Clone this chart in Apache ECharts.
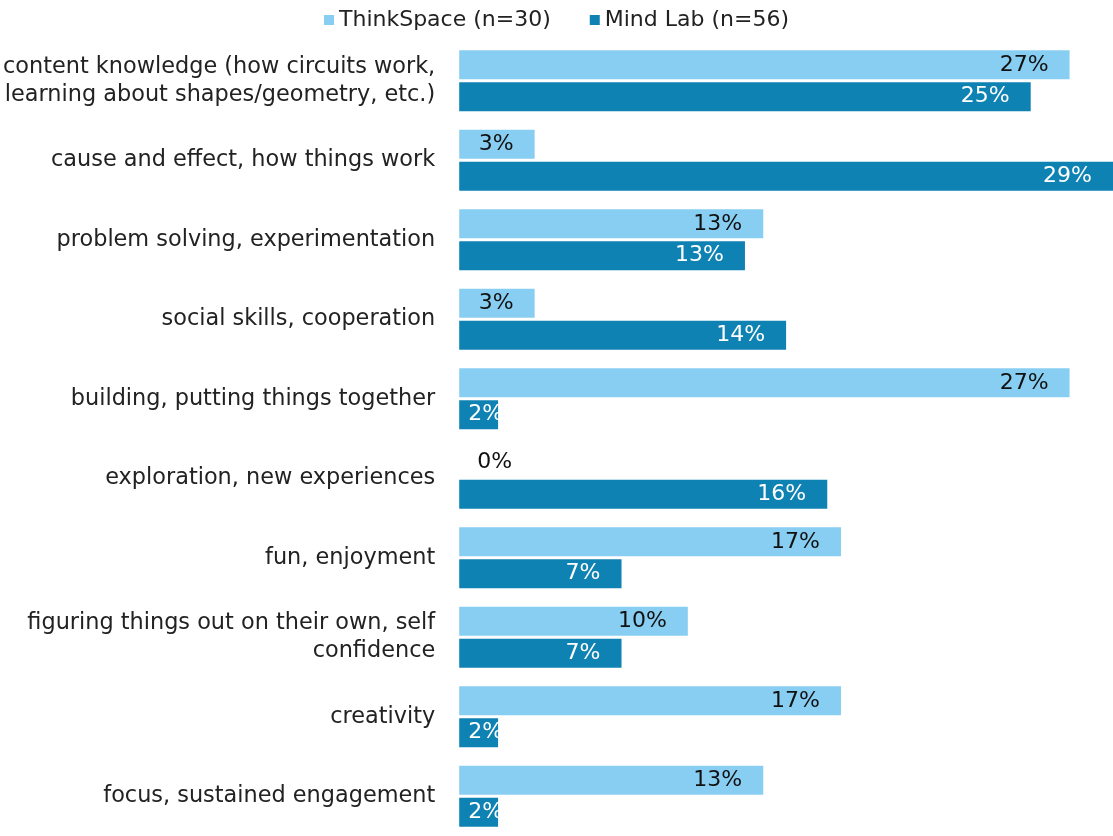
<!DOCTYPE html>
<html><head><meta charset="utf-8">
<script src="https://cdn.jsdelivr.net/npm/echarts@6/dist/echarts.min.js"></script>
<style>html,body{margin:0;padding:0;background:#fff}#c{width:1113px;height:836px}</style>
</head><body><div id="c"></div>
<script>
const categories = [
  "content knowledge (how circuits work,\nlearning about shapes/geometry, etc.)",
  "cause and effect, how things work",
  "problem solving, experimentation",
  "social skills, cooperation",
  "building, putting things together",
  "exploration, new experiences",
  "fun, enjoyment",
  "figuring things out on their own, self\nconfidence",
  "creativity",
  "focus, sustained engagement"
];
const seriesNames = ["ThinkSpace (n=30)", "Mind Lab (n=56)"];
const thinkSpace = [26.7, 3.3, 13.3, 3.3, 26.7, 0, 16.7, 10.0, 16.7, 13.3];
const mindLab    = [25.0, 28.6, 12.5, 14.3, 1.7, 16.1, 7.1, 7.1, 1.7, 1.7];

const FONT = 'DejaVu Sans';
const FS = 22;
const chart = echarts.init(document.getElementById('c'));

function pct(v){ return Math.round(v) + '%'; }

function mkData(vals){
  return vals.map(v => {
    const d = {value: v};
    if (v === 0) {
      d.label = {position: 'right', distance: 18};
    } else if (v < 3) {
      d.label = {position: 'insideLeft', distance: 9};
    }
    return d;
  });
}

chart.setOption({
  animation: false,
  textStyle: {fontFamily: FONT},
  legend: {
    top: 4, left: 'center',
    itemWidth: 10, itemHeight: 10, itemGap: 39,
    icon: 'rect',
    textStyle: {fontFamily: FONT, fontSize: FS, color: '#222'},
    data: seriesNames
  },
  grid: {left: 459, right: 0, top: 41, height: 800, containLabel: false},
  xAxis: {
    type: 'value', min: 0, max: 28.6,
    show: false
  },
  yAxis: {
    type: 'category', inverse: true, data: categories,
    axisLine: {show: false}, axisTick: {show: false},
    axisLabel: {fontFamily: FONT, fontSize: 22.4, color: '#222', margin: 24, lineHeight: 28, align: 'right'}
  },
  series: [
    {
      name: seriesNames[0], type: 'bar', data: mkData(thinkSpace),
      barWidth: 29, barGap: '10%', barCategoryGap: '23%',
      itemStyle: {color: '#88cef2'},
      label: {show: true, position: 'insideRight', distance: 21, formatter: p => pct(p.value),
        fontFamily: FONT, fontSize: FS, color: '#111'}
    },
    {
      name: seriesNames[1], type: 'bar', data: mkData(mindLab),
      barWidth: 29,
      itemStyle: {color: '#0e82b2'},
      label: {show: true, position: 'insideRight', distance: 21, formatter: p => pct(p.value),
        fontFamily: FONT, fontSize: FS, color: '#fff'}
    }
  ]
});
</script></body></html>
